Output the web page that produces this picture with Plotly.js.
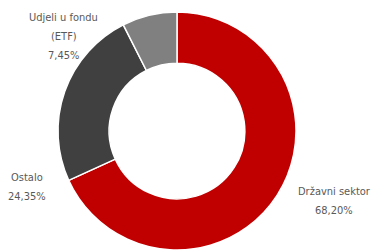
<!DOCTYPE html>
<html><head><meta charset="utf-8">
<script src="https://cdn.plot.ly/plotly-3.0.1.min.js"></script>
<style>html,body{margin:0;padding:0;background:#fff}#c{width:374px;height:250px}</style>
</head><body><div id="c"></div>
<script>
const labels = ["Državni sektor", "Ostalo", "Udjeli u fondu (ETF)"];
const values = [68.20, 24.35, 7.45];
const colors = ["#C00000", "#404040", "#808080"];
const labelLines = [["Državni sektor"], ["Ostalo"], ["Udjeli u fondu", "(ETF)"]];
const labelPos = [{x: 334, y: 191}, {x: 27, y: 177}, {x: 64, y: 17}];

const W = 374, H = 250;
const fmt = v => v.toFixed(2).replace('.', ',') + '%';
const annotations = [];
labelLines.forEach((lines, i) => {
  const all = lines.concat([fmt(values[i])]);
  all.forEach((t, j) => {
    annotations.push({
      xref: 'paper', yref: 'paper',
      x: labelPos[i].x / W, y: 1 - (labelPos[i].y + j * 19.5) / H,
      text: t, showarrow: false, xanchor: 'center', yanchor: 'middle',
      font: {family: 'DejaVu Sans Condensed, DejaVu Sans', size: 11, color: '#595959'}
    });
  });
});

Plotly.newPlot('c', [{
  type: 'pie', labels: labels, values: values, sort: false, direction: 'clockwise', rotation: 0,
  hole: 0.57, textinfo: 'none', hoverinfo: 'none',
  marker: {colors: colors, line: {color: '#ffffff', width: 1.5}},
  domain: {x: [58 / W, 296 / W], y: [0, 238 / H]}
}], {
  width: W, height: H, margin: {l: 0, r: 0, t: 0, b: 0},
  showlegend: false, paper_bgcolor: '#fff', annotations: annotations
}, {displayModeBar: false, staticPlot: true});
</script></body></html>
